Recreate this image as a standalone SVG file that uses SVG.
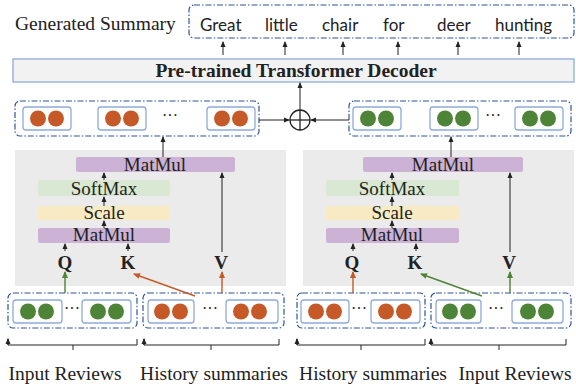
<svg xmlns="http://www.w3.org/2000/svg" width="576" height="387" viewBox="0 0 576 387">
<style>
.serif{font-family:"Liberation Serif","Times New Roman",serif;fill:#222}
.lab{font-size:19.5px}
.blk{font-size:19px}
.qkv{font-size:19px;font-weight:bold}
.sans{font-family:Lato,"Open Sans",sans-serif;fill:#222;font-size:17px}
.dd{fill:#fff;stroke:#2f5597;stroke-width:1.2;stroke-dasharray:6 2 1.5 2}
.in{fill:#fff;stroke:#8faadc;stroke-width:1.3}
.or{fill:#c55a28}
.gr{fill:#4e8437}
.ln{stroke:#222;stroke-width:1;fill:none}
.ao{stroke:#c55a28;stroke-width:1.4;fill:none}
.ag{stroke:#4e8437;stroke-width:1.4;fill:none}
.panel{fill:#ebebeb}
.mm{fill:#ccb3d6}
.sm{fill:#d9e8d3}
.sc{fill:#f8ebc4}
.dots{font-family:"Liberation Serif",serif;font-size:16px;fill:#222}
</style>
<defs>
<marker id="ak" markerWidth="6" markerHeight="6" refX="5" refY="3" orient="auto" markerUnits="userSpaceOnUse"><path d="M0,0.5 L6,3 L0,5.5 Z" fill="#222"/></marker>
<marker id="ao" markerWidth="7" markerHeight="7" refX="6" refY="3.5" orient="auto" markerUnits="userSpaceOnUse"><path d="M0,0.5 L7,3.5 L0,6.5 Z" fill="#c55a28"/></marker>
<marker id="ag" markerWidth="7" markerHeight="7" refX="6" refY="3.5" orient="auto" markerUnits="userSpaceOnUse"><path d="M0,0.5 L7,3.5 L0,6.5 Z" fill="#4e8437"/></marker>
</defs>

<g id="summary">
<text class="serif lab" x="15" y="30">Generated Summary</text>
<rect class="dd" x="189" y="5" width="385" height="33" rx="5"/>
<text class="sans" x="200" y="31">Great</text>
<text class="sans" x="265" y="31">little</text>
<text class="sans" x="322" y="31">chair</text>
<text class="sans" x="383" y="31">for</text>
<text class="sans" x="437" y="31">deer</text>
<text class="sans" x="495" y="31">hunting</text>
</g>

<g id="decoder">
<rect x="13" y="59" width="561" height="23" fill="#f2f2f2" stroke="#8faadc" stroke-width="1.3"/>
<text class="serif" x="296" y="77" font-size="19.5" font-weight="bold" text-anchor="middle">Pre-trained Transformer Decoder</text>
</g>

<g id="left-output">
<rect class="dd" x="15" y="101" width="244" height="35" rx="5"/>
<rect class="in" x="23" y="107" width="48" height="23" rx="3"/>
<rect class="in" x="98" y="107" width="48" height="23" rx="3"/>
<rect class="in" x="207" y="107" width="48" height="23" rx="3"/>
<circle class="or" cx="38" cy="118.5" r="8"/><circle class="or" cx="56" cy="118.5" r="8"/>
<circle class="or" cx="113" cy="118.5" r="8"/><circle class="or" cx="131" cy="118.5" r="8"/>
<circle class="or" cx="222" cy="118.5" r="8"/><circle class="or" cx="240" cy="118.5" r="8"/>
<text class="dots" x="170" y="121" text-anchor="middle">···</text>
</g>

<g id="right-output">
<rect class="dd" x="349" y="101" width="222" height="35" rx="5"/>
<rect class="in" x="353" y="107" width="48" height="23" rx="3"/>
<rect class="in" x="430" y="107" width="48" height="23" rx="3"/>
<rect class="in" x="515" y="107" width="48" height="23" rx="3"/>
<circle class="gr" cx="368" cy="118.5" r="8"/><circle class="gr" cx="386" cy="118.5" r="8"/>
<circle class="gr" cx="445" cy="118.5" r="8"/><circle class="gr" cx="463" cy="118.5" r="8"/>
<circle class="gr" cx="530" cy="118.5" r="8"/><circle class="gr" cx="548" cy="118.5" r="8"/>
<text class="dots" x="493" y="121" text-anchor="middle">···</text>
</g>

<g id="oplus">
<circle cx="300" cy="120" r="10" fill="#fff" stroke="#222" stroke-width="1.3"/>
<line x1="290" y1="120" x2="310" y2="120" stroke="#222" stroke-width="1.3"/>
<line x1="300" y1="110" x2="300" y2="130" stroke="#222" stroke-width="1.3"/>
</g>

<g id="left-attention">
<rect class="panel" x="15" y="150" width="271" height="136"/>
<rect class="mm" x="76" y="157" width="159" height="15" rx="2"/>
<text class="serif blk" x="155" y="171" text-anchor="middle">MatMul</text>
<rect class="sm" x="38" y="180" width="132" height="16" rx="2"/>
<text class="serif blk" x="104" y="195" text-anchor="middle">SoftMax</text>
<rect class="sc" x="38" y="206" width="132" height="14" rx="2"/>
<text class="serif blk" x="104" y="219" text-anchor="middle">Scale</text>
<rect class="mm" x="38" y="228" width="132" height="15" rx="2"/>
<text class="serif blk" x="104" y="241" text-anchor="middle">MatMul</text>
<text class="serif qkv" x="65" y="269" text-anchor="middle">Q</text>
<text class="serif qkv" x="128" y="269" text-anchor="middle">K</text>
<text class="serif qkv" x="221" y="269" text-anchor="middle">V</text>
</g>

<g id="right-attention">
<rect class="panel" x="303" y="150" width="271" height="136"/>
<rect class="mm" x="363" y="157" width="160" height="15" rx="2"/>
<text class="serif blk" x="443" y="171" text-anchor="middle">MatMul</text>
<rect class="sm" x="326" y="180" width="133" height="16" rx="2"/>
<text class="serif blk" x="392" y="195" text-anchor="middle">SoftMax</text>
<rect class="sc" x="326" y="206" width="133" height="14" rx="2"/>
<text class="serif blk" x="392" y="219" text-anchor="middle">Scale</text>
<rect class="mm" x="326" y="228" width="133" height="15" rx="2"/>
<text class="serif blk" x="392" y="241" text-anchor="middle">MatMul</text>
<text class="serif qkv" x="352" y="269" text-anchor="middle">Q</text>
<text class="serif qkv" x="415" y="269" text-anchor="middle">K</text>
<text class="serif qkv" x="509" y="269" text-anchor="middle">V</text>
</g>

<g id="left-input-reviews">
<rect class="dd" x="8" y="293" width="129" height="35" rx="5"/>
<rect class="in" x="13" y="300" width="49" height="23" rx="3"/>
<rect class="in" x="82" y="300" width="49" height="23" rx="3"/>
<circle class="gr" cx="28" cy="311.5" r="8"/><circle class="gr" cx="46" cy="311.5" r="8"/>
<circle class="gr" cx="98" cy="311.5" r="8"/><circle class="gr" cx="116" cy="311.5" r="8"/>
<text class="dots" x="72" y="314" text-anchor="middle">···</text>
<path class="ln" d="M8,339 V345 H137 V339 M73,345 V350"/>
<text class="serif lab" x="65" y="380" text-anchor="middle">Input Reviews</text>
</g>

<g id="left-history">
<rect class="dd" x="143" y="293" width="141" height="35" rx="5"/>
<rect class="in" x="148" y="300" width="46" height="23" rx="3"/>
<rect class="in" x="226" y="300" width="52" height="23" rx="3"/>
<circle class="or" cx="162" cy="311.5" r="8"/><circle class="or" cx="180" cy="311.5" r="8"/>
<circle class="or" cx="241" cy="311.5" r="8"/><circle class="or" cx="259" cy="311.5" r="8"/>
<text class="dots" x="210" y="314" text-anchor="middle">···</text>
<path class="ln" d="M144,339 V345 H279 V339 M211,345 V350"/>
<text class="serif lab" x="214" y="380" text-anchor="middle">History summaries</text>
</g>

<g id="right-history">
<rect class="dd" x="297" y="293" width="128" height="35" rx="5"/>
<rect class="in" x="301" y="300" width="48" height="23" rx="3"/>
<rect class="in" x="371" y="300" width="49" height="23" rx="3"/>
<circle class="or" cx="316" cy="311.5" r="8"/><circle class="or" cx="334" cy="311.5" r="8"/>
<circle class="or" cx="386" cy="311.5" r="8"/><circle class="or" cx="404" cy="311.5" r="8"/>
<text class="dots" x="359" y="314" text-anchor="middle">···</text>
<path class="ln" d="M297,339 V345 H425 V339 M361,345 V350"/>
<text class="serif lab" x="373" y="380" text-anchor="middle">History summaries</text>
</g>

<g id="right-input-reviews">
<rect class="dd" x="431" y="293" width="140" height="35" rx="5"/>
<rect class="in" x="436" y="300" width="45" height="23" rx="3"/>
<rect class="in" x="512" y="300" width="51" height="23" rx="3"/>
<circle class="gr" cx="450" cy="311.5" r="8"/><circle class="gr" cx="468" cy="311.5" r="8"/>
<circle class="gr" cx="528" cy="311.5" r="8"/><circle class="gr" cx="546" cy="311.5" r="8"/>
<text class="dots" x="496" y="314" text-anchor="middle">···</text>
<path class="ln" d="M431,339 V345 H566 V339 M499,345 V350"/>
<text class="serif lab" x="515" y="380" text-anchor="middle">Input Reviews</text>
</g>

<g id="connectors">
<line class="ln" x1="223" y1="55" x2="223" y2="42" marker-end="url(#ak)"/>
<line class="ln" x1="285" y1="55" x2="285" y2="42" marker-end="url(#ak)"/>
<line class="ln" x1="343" y1="55" x2="343" y2="42" marker-end="url(#ak)"/>
<line class="ln" x1="398" y1="55" x2="398" y2="42" marker-end="url(#ak)"/>
<line class="ln" x1="458" y1="55" x2="458" y2="42" marker-end="url(#ak)"/>
<line class="ln" x1="519" y1="55" x2="519" y2="42" marker-end="url(#ak)"/>
<line class="ln" x1="300" y1="110" x2="300" y2="83" marker-end="url(#ak)"/>
<line class="ln" x1="259" y1="120" x2="289" y2="120" marker-end="url(#ak)"/>
<line class="ln" x1="349" y1="120" x2="311" y2="120" marker-end="url(#ak)"/>
<line class="ln" x1="163" y1="157" x2="163" y2="137" marker-end="url(#ak)"/>
<line class="ln" x1="451" y1="157" x2="451" y2="137" marker-end="url(#ak)"/>
<line class="ln" x1="104" y1="180" x2="104" y2="173" marker-end="url(#ak)"/>
<line class="ln" x1="104" y1="206" x2="104" y2="197" marker-end="url(#ak)"/>
<line class="ln" x1="104" y1="228" x2="104" y2="221" marker-end="url(#ak)"/>
<line class="ln" x1="65" y1="251" x2="65" y2="244" marker-end="url(#ak)"/>
<line class="ln" x1="128" y1="251" x2="128" y2="244" marker-end="url(#ak)"/>
<line class="ln" x1="222" y1="252" x2="222" y2="173" marker-end="url(#ak)"/>
<line class="ln" x1="392" y1="180" x2="392" y2="173" marker-end="url(#ak)"/>
<line class="ln" x1="392" y1="206" x2="392" y2="197" marker-end="url(#ak)"/>
<line class="ln" x1="392" y1="228" x2="392" y2="221" marker-end="url(#ak)"/>
<line class="ln" x1="353" y1="251" x2="353" y2="244" marker-end="url(#ak)"/>
<line class="ln" x1="416" y1="251" x2="416" y2="244" marker-end="url(#ak)"/>
<line class="ln" x1="510" y1="252" x2="510" y2="173" marker-end="url(#ak)"/>
<line class="ag" x1="65" y1="293" x2="65" y2="272" marker-end="url(#ag)"/>
<line class="ao" x1="195" y1="296" x2="134" y2="274" marker-end="url(#ao)"/>
<line class="ao" x1="222" y1="293" x2="222" y2="272" marker-end="url(#ao)"/>
<line class="ao" x1="353" y1="293" x2="353" y2="272" marker-end="url(#ao)"/>
<line class="ag" x1="482" y1="296" x2="421" y2="274" marker-end="url(#ag)"/>
<line class="ag" x1="510" y1="293" x2="510" y2="272" marker-end="url(#ag)"/>
<line class="ln" x1="8" y1="345" x2="8" y2="339" marker-end="url(#ak)"/>
<line class="ln" x1="144" y1="345" x2="144" y2="339" marker-end="url(#ak)"/>
<line class="ln" x1="297" y1="345" x2="297" y2="339" marker-end="url(#ak)"/>
<line class="ln" x1="431" y1="345" x2="431" y2="339" marker-end="url(#ak)"/>
</g>
</svg>
